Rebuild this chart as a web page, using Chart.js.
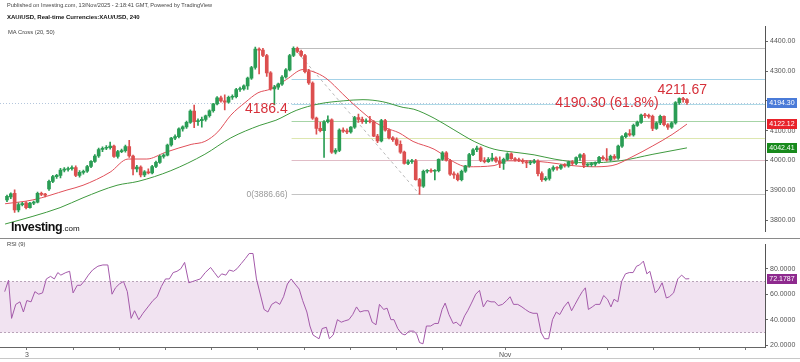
<!DOCTYPE html>
<html>
<head>
<meta charset="utf-8">
<title>XAU/USD 240</title>
<script src="https://cdn.jsdelivr.net/npm/chart.js@4.4.1/dist/chart.umd.min.js"></script>
<style>
  html, body { margin: 0; padding: 0; background: #fff; }
  body { width: 800px; height: 362px; position: relative; overflow: hidden; font-family: "Liberation Sans", Arial, sans-serif; }
  canvas { position: absolute; left: 0; }
  #mainChart { top: 0; }
  #rsiChart { top: 238px; }
  .lbl { position: absolute; white-space: nowrap; color: #333; line-height: 1; }
</style>
</head>
<body>
<canvas id="mainChart" width="800" height="238"></canvas>
<canvas id="rsiChart" width="800" height="124"></canvas>
<div class="lbl" style="left:7px;top:3px;font-size:5.6px;color:#444">Published on Investing.com, 13/Nov/2025 - 2:18:41 GMT, Powered by TradingView</div>
<div class="lbl" style="left:7px;top:13.5px;font-size:6px;font-weight:bold;color:#111">XAU/USD, Real-time Currencies:XAU/USD, 240</div>
<div class="lbl" style="left:8px;top:29.5px;font-size:5.8px;color:#444">MA Cross (20, 50)</div>
<div class="lbl" style="left:7px;top:241.5px;font-size:5.8px;color:#444">RSI (9)</div>
<div class="lbl" style="left:11px;top:221px;font-size:12.5px;font-weight:bold;color:#111;letter-spacing:-0.4px">Investing<span style="font-size:8px;font-weight:normal;letter-spacing:0">.com</span></div>
<script>
// 4h candles, XAU/USD
const opens = [
  3868,3878,3890,3834,3852,3858,3842,3857,3860,3890,
  3886,3905,3930,3946,3950,3968,3970,3973,3976,3950,
  3960,3964,3980,3997,4015,4037,4041,4043,4048,4014,
  4030,4033,4047,4015,3972,3978,3952,3962,3958,3980,
  3994,4014,4018,4052,4075,4080,4106,4113,4128,4166,
  4130,4134,4138,4150,4167,4190,4210,4200,4196,4212,
  4214,4238,4240,4250,4276,4312,4374,4370,4352,4294,
  4240,4246,4256,4280,4304,4352,4376,4366,4352,4298,
  4260,4142,4108,4100,4130,4136,4028,4034,4102,4098,
  4096,4112,4144,4138,4130,4132,4130,4082,4066,4134,
  4102,4076,4070,4054,4028,3990,3996,3999,3936,3914,
  3964,3966,3964,3966,4004,4026,4000,3954,3952,3936,
  3964,3982,4020,4036,4042,4000,3996,4004,4008,3998,
  3990,4004,4022,4006,4002,4000,3996,3992,3994,3998,
  3956,3936,3940,3970,3976,3974,3984,3982,3995,3990,
  4010,4019,3984,3986,3988,3994,4011,4006,4002,4014,
  4008,4048,4080,4090,4086,4118,4128,4152,4150,4148,
  4108,4126,4148,4120,4112,4126,4194,4208,4204
];
const highs = [
  3884,3892,3902,3858,3860,3862,3860,3864,3894,3894,
  3890,3934,3950,3954,3974,3976,3978,3982,3982,3966,
  3968,3984,4000,4020,4042,4046,4050,4062,4052,4034,
  4038,4052,4068,4018,3984,3982,3966,3972,3984,3998,
  4018,4022,4055,4078,4086,4110,4116,4132,4170,4186,
  4140,4146,4152,4170,4192,4214,4216,4220,4216,4220,
  4242,4246,4254,4280,4316,4380,4378,4376,4356,4298,
  4252,4260,4285,4308,4356,4381,4380,4370,4356,4306,
  4264,4146,4128,4134,4150,4140,4040,4106,4110,4106,
  4114,4148,4156,4146,4140,4148,4134,4088,4138,4138,
  4106,4080,4076,4066,4032,4002,4004,4004,3940,3968,
  3970,3972,3970,4006,4030,4030,4004,3962,3958,3968,
  3984,4024,4040,4048,4046,4010,4010,4024,4012,4012,
  4008,4026,4026,4010,4008,4006,4000,4000,4004,4002,
  3962,3946,3974,3982,3980,3986,3990,3998,4000,4012,
  4022,4024,3990,3994,3996,4014,4016,4040,4018,4020,
  4052,4084,4094,4104,4122,4132,4156,4158,4156,4152,
  4130,4152,4150,4124,4130,4198,4210,4211.67,4208
];
const lows = [
  3862,3872,3826,3828,3848,3838,3840,3852,3858,3882,
  3878,3900,3926,3940,3942,3962,3964,3968,3946,3944,
  3954,3960,3976,3994,4010,4030,4036,4038,4010,4008,
  4026,4028,4010,3952,3962,3945,3946,3955,3955,3976,
  3990,4008,4015,4048,4070,4076,4098,4108,4124,4110,
  4118,4112,4132,4145,4162,4186,4196,4170,4192,4205,
  4210,4232,4236,4238,4272,4306,4290,4348,4282,4236,
  4186.4,4238,4252,4276,4300,4348,4362,4348,4294,4255,
  4138,4088,4096,4010,4126,4024,4022,4030,4094,4090,
  4092,4108,4128,4124,4124,4126,4080,4060,4062,4098,
  4072,4064,4050,4024,3988,3986,3990,3934,3886.66,3910,
  3958,3960,3935,3962,4000,3998,3950,3940,3932,3932,
  3960,3978,4016,4030,3996,3992,3994,3998,3994,3976,
  3970,4000,4004,3998,3996,3990,3976,3986,3990,3948,
  3930,3932,3934,3964,3968,3970,3978,3978,3984,3986,
  4000,3976,3980,3980,3982,3990,4002,3998,3998,4004,
  4004,4044,4076,4082,4082,4114,4124,4144,4142,4100,
  4104,4120,4116,4104,4108,4122,4188,4196,4188
];
const closes = [
  3880,3888,3834,3852,3856,3842,3857,3860,3890,3886,
  3884,3930,3946,3950,3968,3970,3973,3976,3950,3960,
  3964,3980,3997,4015,4037,4041,4043,4048,4014,4030,
  4033,4047,4015,3972,3978,3952,3962,3958,3980,3994,
  4014,4018,4052,4075,4080,4106,4113,4128,4166,4130,
  4134,4138,4150,4167,4190,4210,4200,4196,4212,4214,
  4238,4240,4250,4276,4312,4374,4370,4352,4294,4240,
  4246,4256,4280,4304,4352,4376,4366,4352,4298,4260,
  4142,4108,4100,4130,4136,4028,4034,4102,4098,4096,
  4112,4144,4138,4130,4132,4130,4082,4066,4134,4102,
  4076,4070,4054,4028,3990,3996,3999,3936,3914,3964,
  3966,3964,3966,4004,4026,4000,3954,3952,3936,3964,
  3982,4020,4036,4042,4000,3996,4004,4008,3998,3990,
  4004,4022,4006,4002,4000,3996,3992,3994,3998,3956,
  3936,3940,3970,3976,3974,3984,3982,3995,3990,4010,
  4019,3984,3986,3988,3994,4011,4006,4002,4014,4008,
  4048,4080,4090,4086,4118,4128,4152,4150,4148,4108,
  4126,4148,4120,4112,4126,4194,4208,4204,4194.3
];

// MA(20) and MA(50), sampled along the curves (x = candle index)
const ma20X = [-0.5,6.8,15.7,19.9,27,31.7,36.6,41.4,48.2,51.8,55.2,58.6,62.3,65.7,69.1,73.2,77.5,80.1,83.5,87.9,90.6,94,96.6,99.2,102.6,106.3,111.8,117,120.4,127.5,130.9,136.1,141.4,147.9,153.1,158.4,163.6,168.9,174.1,178];
const ma20Y = [3855,3868,3901,3917,3961,4005,4005,4027,4054,4064,4096,4152,4194,4227,4240,4272,4305,4298,4276,4223,4190,4152,4126,4109,4093,4064,4038,3995,3979,3983,3999,3999,3994,3983,3979,3983,4012,4048,4087,4122.12];
const ma50X = [-0.5,6.8,13.9,19.9,28.8,34.3,42.9,51.8,58.6,66.2,70.4,75.7,81.7,88,93.2,98.4,103.7,106.5,111.8,117,122.3,127.5,132.7,138,143.2,151.8,160.5,169.1,178];
const ma50Y = [3787,3813,3842,3875,3917,3930,3966,4021,4076,4118,4135,4168,4190,4200,4204,4197,4178,4172,4142,4103,4064,4038,4028,4019,4005,3992,3999,4021,4042.41];

// RSI(9)
const rsiX = [-0.6,0.4,1.2,2.3,3.4,4.3,5.2,6.3,7.3,8.3,9.3,10.3,11.4,12.4,13.3,14.1,15.4,16.4,17.3,18.4,19.3,20.4,21.3,22.4,23.8,25.1,26.4,27.5,28.4,29.4,30.5,31.5,32.5,33.4,34.5,35.6,36.9,38.2,39.3,40.4,41.5,42.5,43.5,44.5,45.5,46.5,47.6,48.6,49.6,50.6,51.9,53.3,54.3,55.3,56.2,57.3,58.2,59.3,60.2,61.3,62.4,63.4,64.4,65.3,67.3,68.3,69.3,70.4,71.4,72.4,73.4,74.4,75.4,76.5,77.4,78.5,79.3,80.1,81.1,81.7,82.5,83.6,84.4,85.4,86.5,87.5,88.4,89.5,90.5,91.5,92.4,93.5,94.6,95.6,96.6,97.5,98.6,99.5,100.5,101.3,102.3,103.3,104.2,105.3,106.4,107.2,108,108.9,109.8,110.9,112,112.9,113.9,114.7,115.7,116.8,117.6,118.7,119.8,120.6,121.6,122.7,123.7,124.7,125.7,126.7,127.7,128.6,129.7,130.8,131.7,132.6,133.7,134.8,135.7,136.7,137.7,138.8,139.8,140.7,141.8,142.8,143.8,144.7,145.8,146.9,147.8,148.7,149.8,150.6,151.4,152.2,153.2,154.1,155.2,156.2,157.2,158.1,158.9,159.9,160.9,161.9,162.9,163.9,164.8,165.6,166.6,167.5,168.3,169.7,170.6,171.5,172.6,173.4,174.5,175.6,176.6,177.7,178.6];
const rsiY = [62,71,41,52,54,46,55,54,62,60,61,72,74,72,77,75,77,78,61,67,67,71,75,79,82,83,83,60,65,68,70,62,41,47,40,45,50,55,58,66,72,72,77,78,80,85,69,70,71,72,77,81,77,73,76,75,79,78,80,84,88,92,92,72,48,46,52,54,52,58,68,72,68,64,55,46,35,28,26,25,33,34,25,28,40,38,39,40,44,50,46,47,47,38,36,52,48,49,40,40,33,29,28,31,31,29,22,21,35,35,37,37,48,53,44,37,38,35,43,47,53,60,63,50,55,54,54,51,52,55,58,52,52,50,48,46,45,45,30,25,25,40,46,44,50,54,47,52,58,62,65,48,50,52,52,59,56,50,56,54,70,76,77,77,82,83,86,76,78,61,64,69,57,58,61,72,75,72,72.1787];

// axes
const priceTicks = [3800, 3900, 4000, 4100, 4200, 4300, 4400];
const rsiTicks = [20, 40, 60, 80];
const dateTickPos = [5.2, 17.4, 29.5, 41.6, 53.6, 65.7, 77.8, 89.9, 101.9, 114.0, 130.4, 145.1, 157.2, 169.2, 181.3, 193.4];
const dateTickLabels = ['3', '', '', '', '', '', '', '', '', '', 'Nov', '', '', '', '', ''];

// fibonacci retracement and last values
const fibLow = 3886.66;
const fibHigh = 4377.99;
const fibRatios = [0, 0.236, 0.382, 0.5, 0.618, 0.786, 1];
const lastPrice = 4194.30;
const lastMa20 = 4122.12;
const lastMa50 = 4042.41;
const lastRsi = 72.1787;

const UP = '#2a9d55', DOWN = '#dc4f4f';
const FONT = '"Liberation Sans", Arial, sans-serif';
const candleColors = opens.map((o, i) => closes[i] >= o ? UP : DOWN);
const X_MIN = -1.83, X_MAX = 198.43;

function hline(ctx, x1, x2, y) {
  ctx.beginPath(); ctx.moveTo(x1, y); ctx.lineTo(x2, y); ctx.stroke();
}
function tag(ctx, left, yPix, text, bg) {
  ctx.fillStyle = bg;
  ctx.fillRect(left + 2, Math.round(yPix) - 5, 30, 10);
  ctx.fillStyle = '#fff';
  ctx.font = '7px ' + FONT;
  ctx.textAlign = 'center';
  ctx.textBaseline = 'middle';
  ctx.fillText(text, left + 17, Math.round(yPix) + 0.5);
}

const fibColors = ['#c4c4c4', '#e0bcc6', '#dde7b0', '#a6d4a6', '#aed9e6', '#a4d2e8', '#bdbdbd'];

const mainOverlay = {
  id: 'mainOverlay',
  beforeDatasetsDraw(chart) {
    const { ctx, chartArea: a, scales: { x, y } } = chart;
    ctx.save();
    ctx.lineWidth = 1;
    // current price line
    ctx.strokeStyle = '#b4c6dc';
    ctx.setLineDash([1, 2]);
    hline(ctx, a.left, a.right, Math.round(y.getPixelForValue(lastPrice)) + 0.5);
    // fib levels
    ctx.setLineDash([]);
    fibRatios.forEach((r, k) => {
      const yy = Math.round(y.getPixelForValue(fibLow + r * (fibHigh - fibLow))) + 0.5;
      ctx.strokeStyle = fibColors[k];
      hline(ctx, x.getPixelForValue(74.5), a.right, yy);
    });
    // trend line of the fib
    ctx.strokeStyle = '#b8b8b8';
    ctx.setLineDash([3, 3]);
    ctx.beginPath();
    ctx.moveTo(x.getPixelForValue(75), y.getPixelForValue(fibHigh));
    ctx.lineTo(x.getPixelForValue(108), y.getPixelForValue(fibLow));
    ctx.stroke();
    ctx.restore();
  },
  afterDraw(chart) {
    const { ctx, chartArea: a, scales: { x, y } } = chart;
    ctx.save();
    // annotations
    ctx.fillStyle = '#d6303a';
    ctx.font = '14px ' + FONT;
    ctx.textAlign = 'left';
    ctx.textBaseline = 'middle';
    ctx.fillText('4186.4', x.getPixelForValue(62.3), y.getPixelForValue(4172));
    ctx.fillText('4190.30 (61.8%)', x.getPixelForValue(143.5), y.getPixelForValue(4194));
    ctx.fillText('4211.67', x.getPixelForValue(170.3), y.getPixelForValue(4237));
    ctx.fillStyle = '#999';
    ctx.font = '8.5px ' + FONT;
    ctx.fillText('0(3886.66)', x.getPixelForValue(62.7), y.getPixelForValue(fibLow) + 0.5);
    // value tags on the price axis
    tag(ctx, a.right, y.getPixelForValue(lastPrice), lastPrice.toFixed(2), '#4a7bd8');
    tag(ctx, a.right, y.getPixelForValue(lastMa20), lastMa20.toFixed(2), '#e8222a');
    tag(ctx, a.right, y.getPixelForValue(lastMa50), lastMa50.toFixed(2), '#188a1c');
    ctx.restore();
  }
};

const rsiOverlay = {
  id: 'rsiOverlay',
  beforeDatasetsDraw(chart) {
    const { ctx, chartArea: a, scales: { y } } = chart;
    const y70 = Math.round(y.getPixelForValue(70)) + 0.5;
    const y30 = Math.round(y.getPixelForValue(30)) + 0.5;
    ctx.save();
    ctx.fillStyle = '#f1e3f1';
    ctx.fillRect(a.left, y70, a.right - a.left, y30 - y70);
    ctx.strokeStyle = '#b9a3b9';
    ctx.lineWidth = 1;
    ctx.setLineDash([2, 2]);
    hline(ctx, a.left, a.right, y70);
    hline(ctx, a.left, a.right, y30);
    ctx.restore();
  },
  afterDraw(chart) {
    const { ctx, chartArea: a, scales: { y } } = chart;
    ctx.save();
    ctx.strokeStyle = '#8a8a8a';
    ctx.lineWidth = 1;
    hline(ctx, 0, chart.width, 0.5);
    ctx.strokeStyle = '#c8c8c8';
    hline(ctx, 0, chart.width, 120.5);
    tag(ctx, a.right, y.getPixelForValue(lastRsi), lastRsi.toFixed(4), '#8e2a8e');
    ctx.restore();
  }
};

const axisFont = { size: 7, family: FONT };

new Chart(document.getElementById('mainChart'), {
  type: 'bar',
  data: {
    datasets: [
      {
        label: 'wick',
        data: lows.map((l, i) => ({ x: i, y: [l, highs[i]] })),
        backgroundColor: candleColors,
        barThickness: 1,
        grouped: false,
        order: 2
      },
      {
        label: 'body',
        data: opens.map((o, i) => ({ x: i, y: [o, closes[i]] })),
        backgroundColor: candleColors,
        barThickness: 3,
        minBarLength: 1,
        grouped: false,
        order: 1
      },
      {
        type: 'line',
        label: 'MA 20',
        data: ma20X.map((v, i) => ({ x: v, y: ma20Y[i] })),
        borderColor: '#e0505a',
        borderWidth: 1,
        pointRadius: 0,
        cubicInterpolationMode: 'monotone',
        order: 3
      },
      {
        type: 'line',
        label: 'MA 50',
        data: ma50X.map((v, i) => ({ x: v, y: ma50Y[i] })),
        borderColor: '#3f9a3f',
        borderWidth: 1,
        pointRadius: 0,
        cubicInterpolationMode: 'monotone',
        order: 3
      }
    ]
  },
  options: {
    responsive: false,
    animation: false,
    devicePixelRatio: 1,
    layout: { padding: { top: 26, left: 0, right: 0, bottom: 0 } },
    plugins: { legend: { display: false }, tooltip: { enabled: false } },
    scales: {
      x: { type: 'linear', min: X_MIN, max: X_MAX, offset: false, display: false },
      y: {
        position: 'right',
        min: 3761, max: 4451,
        afterFit(s) { s.width = 35; },
        afterBuildTicks(s) { s.ticks = priceTicks.map(v => ({ value: v })); },
        ticks: { font: axisFont, color: '#555', padding: 2, callback: v => Number(v).toFixed(2) },
        grid: { drawOnChartArea: false, tickLength: 3, color: '#666' },
        border: { color: '#555' }
      }
    }
  },
  plugins: [mainOverlay]
});

new Chart(document.getElementById('rsiChart'), {
  type: 'line',
  data: {
    datasets: [{
      label: 'RSI (9)',
      data: rsiX.map((v, i) => ({ x: v, y: rsiY[i] })),
      borderColor: '#a45aaa',
      borderWidth: 1,
      pointRadius: 0,
      tension: 0
    }]
  },
  options: {
    responsive: false,
    animation: false,
    devicePixelRatio: 1,
    layout: { padding: 0 },
    plugins: { legend: { display: false }, tooltip: { enabled: false } },
    scales: {
      x: {
        type: 'linear', min: X_MIN, max: X_MAX, offset: false,
        afterFit(s) { s.height = 15; },
        afterBuildTicks(s) { s.ticks = dateTickPos.map(v => ({ value: v })); },
        ticks: { font: axisFont, color: '#555', padding: 1, autoSkip: false, maxRotation: 0,
                 callback: (v, i) => dateTickLabels[i] },
        grid: { drawOnChartArea: false, tickLength: 3, color: '#777' },
        border: { color: '#666' }
      },
      y: {
        position: 'right',
        min: 18.5, max: 99.3,
        afterFit(s) { s.width = 35; },
        afterBuildTicks(s) { s.ticks = rsiTicks.map(v => ({ value: v })); },
        ticks: { font: axisFont, color: '#555', padding: 2, callback: v => Number(v).toFixed(4) },
        grid: { drawOnChartArea: false, tickLength: 3, color: '#666' },
        border: { color: '#555' }
      }
    }
  },
  plugins: [rsiOverlay]
});
</script>
</body>
</html>
